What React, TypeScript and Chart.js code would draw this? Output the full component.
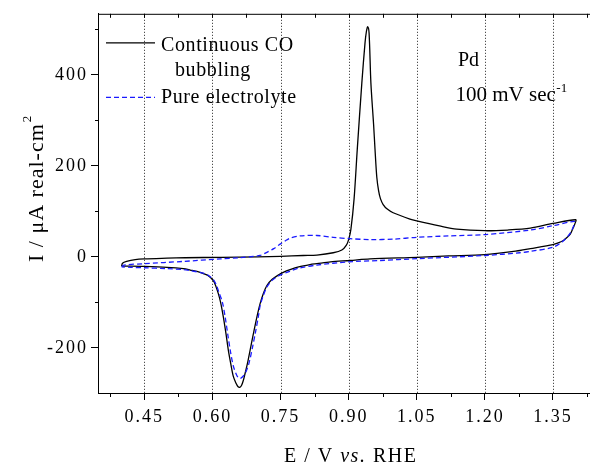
import React, { useEffect, useRef } from 'react';
import { Chart, registerables } from 'chart.js';

Chart.register(...registerables);

// Continuous CO bubbling (black, solid): anodic then cathodic sweep
const coE = [
  0.400, 0.402, 0.411, 0.430, 0.450, 0.500, 0.540, 0.620, 0.700, 0.750, 0.800, 0.830, 0.866, 0.885,
  0.895, 0.900, 0.905, 0.912, 0.919, 0.929, 0.936, 0.939, 0.942, 0.945, 0.949, 0.955, 0.958, 0.962,
  0.966, 0.970, 0.976, 0.985, 0.998, 1.035, 1.050, 1.100, 1.138, 1.200, 1.250, 1.300, 1.350, 1.400,
  1.398, 1.395, 1.388, 1.380, 1.373, 1.360, 1.350, 1.300, 1.277, 1.200, 1.120, 1.050, 0.947, 0.903,
  0.860, 0.830, 0.815, 0.790, 0.771, 0.756, 0.745, 0.731, 0.720, 0.712, 0.705, 0.698, 0.690, 0.683,
  0.677, 0.672, 0.668, 0.664, 0.660, 0.656, 0.652, 0.646, 0.640, 0.635, 0.630, 0.624, 0.618, 0.613,
  0.607, 0.602, 0.590, 0.580, 0.573, 0.551, 0.536, 0.500, 0.450, 0.420, 0.400,
];
const coI = [
  -20.5, -14, -10, -6, -4.5, -3, -2, -1, 0, 1, 3, 4, 9, 15,
  26, 38, 61, 128, 237, 382, 470, 495, 506, 492, 382, 290, 237, 175,
  145, 128, 115, 105, 97, 83, 79, 68, 61, 57.5, 59, 63, 73.5, 81.6,
  72, 65, 50, 42, 36, 30, 27, 18, 14, 5, 2, -1, -4.5, -8,
  -11, -15, -17, -22, -28, -34, -40, -50, -63, -81, -103, -132, -170, -205,
  -235, -256, -272, -283, -287, -285, -278, -263, -233, -205, -170, -132, -100, -81,
  -63, -52, -41, -37, -34, -29, -26, -23, -21, -20.5, -20.5,
];

// Pure electrolyte (blue, dashed)
const peE = [
  0.400, 0.405, 0.450, 0.536, 0.617, 0.660, 0.690, 0.705, 0.720, 0.735, 0.749, 0.760, 0.771, 0.793,
  0.830, 0.866, 0.903, 0.947, 1.000, 1.050, 1.120, 1.200, 1.300, 1.350, 1.397,
  1.396, 1.393, 1.388, 1.380, 1.370, 1.350, 1.300, 1.277, 1.200, 1.050, 0.969, 0.900, 0.830, 0.790,
  0.770, 0.745, 0.730, 0.720, 0.712, 0.705, 0.701, 0.694, 0.688, 0.681, 0.675, 0.668, 0.662, 0.657,
  0.652, 0.646, 0.640, 0.634, 0.628, 0.622, 0.615, 0.609, 0.602, 0.590, 0.580, 0.550, 0.536, 0.500,
  0.450, 0.420, 0.400,
];
const peI = [
  -22, -18, -15, -10, -4.5, -2, 1, 3, 10, 18, 28, 35, 41, 46,
  47, 43, 40, 38, 39, 43, 46, 49, 59, 68.5, 78,
  70, 62, 52, 42, 33, 21, 12, 9, 3, -4, -8, -11, -18, -25,
  -32, -42, -53, -66, -85, -108, -132, -170, -200, -232, -250, -262, -267, -266,
  -257, -240, -210, -172, -132, -100, -80, -63, -50, -40, -36, -30, -28, -26,
  -24, -23, -22,
];

const xTickValues = [0.45, 0.6, 0.75, 0.9, 1.05, 1.2, 1.35];
const xMinorValues = [0.375, 0.525, 0.675, 0.825, 0.975, 1.125, 1.275, 1.425];
const yTickValues = [-200, 0, 200, 400];
const yMinorValues = [-100, 100, 300, 500];
const legendLabels = ['Continuous CO', 'bubbling', 'Pure electrolyte'];
const annotationLabels = ['Pd', '100 mV sec', '-1'];
const xTitleParts = ['E / V ', 'vs.', ' RHE'];
const yTitleParts = ['I / \u03bcA real-cm', '2'];

const SERIF = '"Liberation Serif", "Times New Roman", serif';

const decorPlugin = {
  id: 'decor',
  beforeDraw(chart: any) {
    chart.ctx.letterSpacing = '2px';
  },
  beforeDatasetsDraw(chart: any) {
    const { ctx, chartArea: a, scales } = chart;
    const x = scales.x;
    ctx.save();
    ctx.strokeStyle = '#222';
    ctx.lineWidth = 1;
    ctx.setLineDash([1, 2]);
    for (const v of xTickValues) {
      const px = Math.round(x.getPixelForValue(v)) + 0.5;
      ctx.beginPath();
      ctx.moveTo(px, a.top);
      ctx.lineTo(px, a.bottom);
      ctx.stroke();
    }
    ctx.restore();
  },
  afterDraw(chart: any) {
    const { ctx, chartArea: a, scales } = chart;
    const x = scales.x;
    const y = scales.y;
    ctx.save();
    ctx.letterSpacing = '0px';
    ctx.strokeStyle = '#000';
    ctx.lineWidth = 1;
    ctx.setLineDash([]);
    // top frame line
    ctx.beginPath();
    ctx.moveTo(a.left, a.top + 0.5);
    ctx.lineTo(a.right, a.top + 0.5);
    ctx.stroke();
    // top ticks (inward)
    for (const v of [...xTickValues, ...xMinorValues]) {
      const px = Math.round(x.getPixelForValue(v)) + 0.5;
      ctx.beginPath();
      ctx.moveTo(px, a.top);
      ctx.lineTo(px, a.top + 4);
      ctx.stroke();
    }
    // bottom minor ticks
    for (const v of xMinorValues) {
      const px = Math.round(x.getPixelForValue(v)) + 0.5;
      ctx.beginPath();
      ctx.moveTo(px, a.bottom);
      ctx.lineTo(px, a.bottom + 4);
      ctx.stroke();
    }
    // left minor ticks
    for (const v of yMinorValues) {
      const py = Math.round(y.getPixelForValue(v)) + 0.5;
      ctx.beginPath();
      ctx.moveTo(a.left - 3, py);
      ctx.lineTo(a.left, py);
      ctx.stroke();
    }

    // legend
    ctx.fillStyle = '#000';
    ctx.textAlign = 'left';
    ctx.textBaseline = 'alphabetic';
    ctx.lineWidth = 1.3;
    ctx.strokeStyle = '#000';
    ctx.beginPath();
    ctx.moveTo(a.left + 8, a.top + 29);
    ctx.lineTo(a.left + 57, a.top + 29);
    ctx.stroke();
    ctx.strokeStyle = '#1a1aff';
    ctx.setLineDash([5, 3]);
    ctx.beginPath();
    ctx.moveTo(a.left + 8, a.top + 83.5);
    ctx.lineTo(a.left + 57, a.top + 83.5);
    ctx.stroke();
    ctx.setLineDash([]);
    ctx.font = `20px ${SERIF}`;
    ctx.letterSpacing = '0.6px';
    ctx.fillText(legendLabels[0], a.left + 63, a.top + 37);
    ctx.fillText(legendLabels[1], a.left + 77, a.top + 62.5);
    ctx.fillText(legendLabels[2], a.left + 63, a.top + 89);

    // annotations
    ctx.letterSpacing = '0px';
    ctx.font = `20px ${SERIF}`;
    ctx.fillText(annotationLabels[0], 458, a.top + 52);
    ctx.font = `21px ${SERIF}`;
    ctx.fillText(annotationLabels[1], 455.5, a.top + 87);
    const w1 = ctx.measureText(annotationLabels[1]).width;
    ctx.font = `13px ${SERIF}`;
    ctx.fillText(annotationLabels[2], 455.5 + w1 + 0.5, a.top + 78);

    // x title
    ctx.letterSpacing = '1.5px';
    let tx = 284;
    const ty = 461.5;
    ctx.font = `20px ${SERIF}`;
    ctx.fillText(xTitleParts[0], tx, ty);
    tx += ctx.measureText(xTitleParts[0]).width;
    ctx.font = `italic 20px ${SERIF}`;
    ctx.fillText(xTitleParts[1], tx, ty);
    tx += ctx.measureText(xTitleParts[1]).width;
    ctx.font = `20px ${SERIF}`;
    ctx.fillText(xTitleParts[2], tx, ty);

    // y title (rotated)
    ctx.save();
    ctx.translate(43, 262);
    ctx.rotate(-Math.PI / 2);
    ctx.letterSpacing = '1px';
    ctx.font = `22px ${SERIF}`;
    ctx.fillText(yTitleParts[0], 0, 0);
    const wy = ctx.measureText(yTitleParts[0]).width;
    ctx.letterSpacing = '0px';
    ctx.font = `13px ${SERIF}`;
    ctx.fillText(yTitleParts[1], wy + 1, -12);
    ctx.restore();

    ctx.restore();
  },
};

export default function App() {
  const ref = useRef<HTMLCanvasElement | null>(null);
  useEffect(() => {
    document.body.style.margin = '0';
    const canvas = ref.current;
    if (!canvas) return;
    const toPts = (xs: number[], ys: number[]) => xs.map((v, i) => ({ x: v, y: ys[i] }));
    const tickFont = { family: SERIF, size: 18 };
    const chart = new Chart(canvas, {
      type: 'scatter',
      data: {
        datasets: [
          {
            label: legendLabels[2],
            data: toPts(peE, peI),
            showLine: true,
            borderColor: '#1a1aff',
            borderWidth: 1.3,
            borderDash: [5, 3],
            pointRadius: 0,
            tension: 0.3,
            fill: false,
          },
          {
            label: legendLabels[0] + ' ' + legendLabels[1],
            data: toPts(coE, coI),
            showLine: true,
            borderColor: '#000000',
            borderWidth: 1.3,
            pointRadius: 0,
            tension: 0.3,
            fill: false,
          },
        ],
      },
      options: {
        responsive: false,
        devicePixelRatio: 1,
        animation: false,
        layout: { padding: { left: 0, right: 0, top: 13, bottom: 0 } },
        plugins: { legend: { display: false }, tooltip: { enabled: false }, title: { display: false } },
        scales: {
          x: {
            type: 'linear',
            min: 0.348,
            max: 1.4315,
            afterBuildTicks: (axis: any) => {
              axis.ticks = xTickValues.map((v) => ({ value: v }));
            },
            afterFit: (axis: any) => {
              axis.height = 69;
            },
            ticks: {
              font: tickFont,
              color: '#000',
              padding: 6,
              maxRotation: 0,
              autoSkip: false,
              callback: (v: any) => Number(v).toFixed(2),
            },
            grid: { drawOnChartArea: false, drawTicks: true, tickLength: 7, color: '#000', lineWidth: 1 },
            border: { display: true, color: '#000', width: 1 },
          },
          y: {
            type: 'linear',
            min: -299.4,
            max: 534.5,
            afterBuildTicks: (axis: any) => {
              axis.ticks = yTickValues.map((v) => ({ value: v }));
            },
            afterFit: (axis: any) => {
              axis.width = 98;
            },
            ticks: {
              font: tickFont,
              color: '#000',
              padding: 3,
              autoSkip: false,
              callback: (v: any) => String(v),
            },
            grid: { drawOnChartArea: false, drawTicks: true, tickLength: 7, color: '#000', lineWidth: 1 },
            border: { display: true, color: '#000', width: 1 },
          },
        },
      },
      plugins: [decorPlugin],
    } as any);
    return () => chart.destroy();
  }, []);
  return (
    <div style={{ width: 590, height: 462 }}>
      <canvas ref={ref} width={590} height={462} style={{ display: 'block' }} />
    </div>
  );
}
